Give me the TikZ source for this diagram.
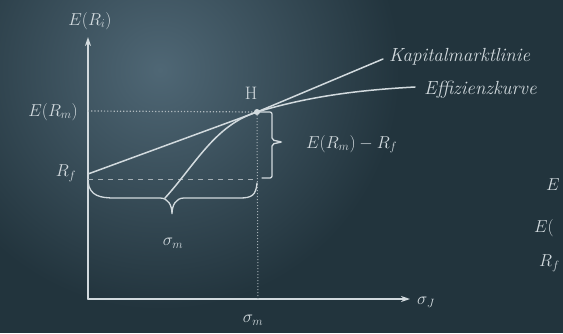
\documentclass[tikz,border=0pt]{standalone}
\usetikzlibrary{arrows.meta}
\definecolor{board}{HTML}{22343D}
\definecolor{boardlight}{HTML}{4F6775}
\definecolor{chalk}{HTML}{D2DADE}
\tikzset{
  chalkline/.style={draw=chalk, line width=1.5pt, line cap=round},
  chalktext/.style={text=chalk, font=\fontsize{18}{20}\selectfont, inner sep=1pt},
  chalkword/.style={text=chalk, font=\fontsize{19}{21}\selectfont\itshape, inner sep=1pt}
}
\begin{document}
\begin{tikzpicture}[x=1pt, y=-1pt, >={Stealth[length=9pt,width=6pt]}]
\useasboundingbox (0,0) rectangle (563,333);
\clip (0,0) rectangle (563,333);
  \fill[board] (0,0) rectangle (563,333);
  \shade[inner color=boardlight, outer color=board] (160,70) circle[radius=240];

\coordinate (O) at (88,299);
\coordinate (ytip) at (88,37);
\coordinate (xtip) at (410,299);
\coordinate (M) at (257,112);
\coordinate (Rf) at (88,174);
\coordinate (Rfd) at (88,179);
\coordinate (Emd) at (88,111);

  \draw[chalkline, ->](O)--(ytip);
  \draw[chalkline, ->](O)--(xtip);

% levels
\draw[chalk!80!board, line width=1.2pt, dotted] (Emd)--(M);
\draw[chalk!75!board, line width=1pt, dash pattern=on 5pt off 5pt] (Rfd)--(257,179);
\draw[chalk!75!board, line width=1pt, dotted] (M)--(258,299);

% Kapitalmarktlinie and Effizienzkurve
\draw[chalkline] (Rf)--(M)--(383,59);
\draw[chalkline] (165,198) .. controls (195,165) and (215,125) .. (M)
   .. controls (310,96) and (360,90) .. (415,87);
\fill[chalk] (M) circle[radius=3pt];

% braces
\draw[chalkline, line width=1.3pt] (88,182) .. controls (90,196) and (100,198) .. (115,198) -- (160,198)
   .. controls (168,198) and (172,205) .. (172,214) .. controls (172,205) and (176,198) .. (184,198)
   -- (240,198) .. controls (252,198) and (256,195) .. (257,183);
\draw[chalkline, line width=1.3pt, rounded corners=2pt] (M)--(272,112)--(272,140)--(282,142)--(272,144)--(272,178)--(262,178);

\node[chalktext] (ERi) at (90,21) {$E(R_i)$};
\node[chalktext, anchor=east] (ERm) at (79,112) {$E(R_m)$};
\node[chalktext] (Rflab) at (66,173) {$R_f$};
\node[chalktext] (H) at (251,93) {H};
\node[chalkword, anchor=west] (KML) at (388,57) {Kapitalmarktlinie};
\node[chalkword, anchor=west] (EK) at (423,90) {Effizienzkurve};
\node[chalktext, anchor=west] (diff) at (305,144) {$E(R_m)-R_f$};
\node[chalktext] (sm1) at (173,243) {$\sigma_m$};
\node[chalktext] (sm2) at (253,320) {$\sigma_m$};
\node[chalktext, anchor=west] (sJ) at (416,302) {$\sigma_J$};

% cut off at the right edge
\node[chalktext, anchor=west] (fr1) at (545,185) {$E$};
\node[chalktext, anchor=west] (fr2) at (533,228) {$E($};
\node[chalktext, anchor=west] (fr3) at (538,263) {$R_f$};
\end{tikzpicture}
\end{document}
